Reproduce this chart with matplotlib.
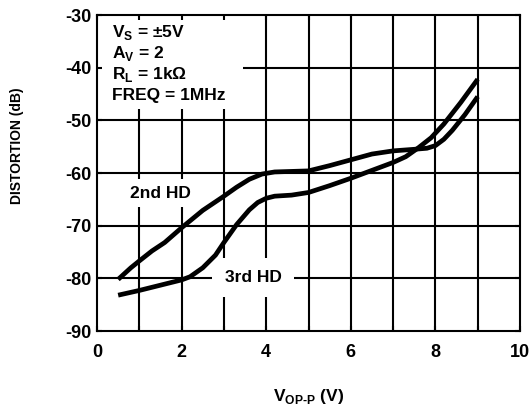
import numpy as np
import matplotlib.pyplot as plt
from matplotlib.patches import Rectangle

# 2nd harmonic distortion
hd2_v = [0.5, 0.8, 1.0, 1.3, 1.6, 2.0, 2.5, 3.0, 3.3, 3.6, 3.9, 4.2, 4.6, 5.0,
         5.5, 6.0, 6.5, 7.0, 7.5, 7.8, 8.0, 8.2, 8.4, 8.7, 9.0]
hd2_db = [-80.2, -78.0, -76.7, -74.8, -73.2, -70.4, -67.1, -64.4, -62.7, -61.2,
          -60.2, -59.8, -59.7, -59.6, -58.6, -57.5, -56.4, -55.8, -55.5, -55.3,
          -54.8, -53.6, -51.9, -48.9, -45.5]

# 3rd harmonic distortion
hd3_v = [0.5, 1.0, 1.5, 2.0, 2.2, 2.5, 2.8, 3.0, 3.3, 3.6, 3.8, 4.0, 4.2, 4.6,
         5.0, 5.5, 6.0, 6.5, 7.0, 7.3, 7.6, 7.9, 8.2, 8.6, 9.0]
hd3_db = [-83.2, -82.3, -81.3, -80.3, -79.7, -78.0, -75.6, -73.2, -69.8, -67.0,
          -65.6, -64.8, -64.4, -64.2, -63.7, -62.4, -61.0, -59.5, -58.0, -56.9,
          -55.2, -53.3, -50.7, -46.6, -42.2]

x_ticks = [0, 2, 4, 6, 8, 10]
x_grid = [1, 2, 3, 4, 5, 6, 7, 8, 9]
y_ticks = [-90, -80, -70, -60, -50, -40, -30]

conditions = ["V$_\\mathregular{S}$ = \u00b15V",
              "A$_\\mathregular{V}$ = 2",
              "R$_\\mathregular{L}$ = 1k\u03a9",
              "FREQ = 1MHz"]

plt.rcParams['font.family'] = ['Liberation Sans', 'DejaVu Sans']
plt.rcParams['font.weight'] = 'bold'
plt.rcParams['axes.linewidth'] = 1.5
plt.rcParams['axes.unicode_minus'] = False

fig = plt.figure(figsize=(5.32, 4.11), dpi=100)
ax = fig.add_axes([97 / 532, 1 - 331 / 411, 423 / 532, 316 / 411])
ax.set_xlim(0, 10)
ax.set_ylim(-90, -30)

# grid drawn by hand so the white label boxes can sit above it
ax.vlines(x_grid, -90, -30, colors='black', linewidth=1.5, zorder=0.5)
ax.hlines(y_ticks[1:-1], 0, 10, colors='black', linewidth=1.5, zorder=0.5)

ax.plot(hd2_v, hd2_db, color='black', linewidth=3.4, solid_joinstyle='round',
        solid_capstyle='butt', zorder=3)
ax.plot(hd3_v, hd3_db, color='black', linewidth=3.4, solid_joinstyle='round',
        solid_capstyle='butt', zorder=3)

# box behind the test conditions
ax.add_patch(Rectangle((0, -47.8), 3.45, 17.8, facecolor='white',
                       edgecolor='none', zorder=1))
for i, line in enumerate(conditions):
    ax.text(0.35, -34.2 - 4.0 * i, line, fontsize=12.5, fontweight='bold',
            va='baseline', ha='left', zorder=4)

ax.text(1.49, -63.8, "2nd HD", fontsize=12.5, fontweight='bold', ha='center',
        va='center', zorder=2,
        bbox=dict(boxstyle='square,pad=0.4', facecolor='white', edgecolor='none'))
ax.text(3.69, -79.8, "3rd HD", fontsize=12.5, fontweight='bold', ha='center',
        va='center', zorder=2,
        bbox=dict(boxstyle='square,pad=0.7', facecolor='white', edgecolor='none'))

ax.set_xticks(x_ticks)
ax.set_xticks(x_grid, minor=True)
ax.set_yticks(y_ticks)
ax.tick_params(which='both', direction='in', top=True, right=True,
               length=3.6, width=1.5, labelsize=13)
ax.tick_params(axis='x', pad=9)
ax.tick_params(axis='y', pad=4)
for lab in ax.get_xticklabels() + ax.get_yticklabels():
    lab.set_fontweight('bold')

ax.set_xlabel("V$_\\mathregular{OP\u2010P}$ (V)", fontsize=12.5, fontweight='bold')
ax.set_ylabel("DISTORTION (dB)", fontsize=10, fontweight='bold')
ax.xaxis.set_label_coords(0.501, -0.206)
ax.yaxis.set_label_coords(-0.189, 0.585)
ax.xaxis.label.set_va('center')
ax.yaxis.label.set_va('center')

fig.savefig('out.png', dpi=100)
